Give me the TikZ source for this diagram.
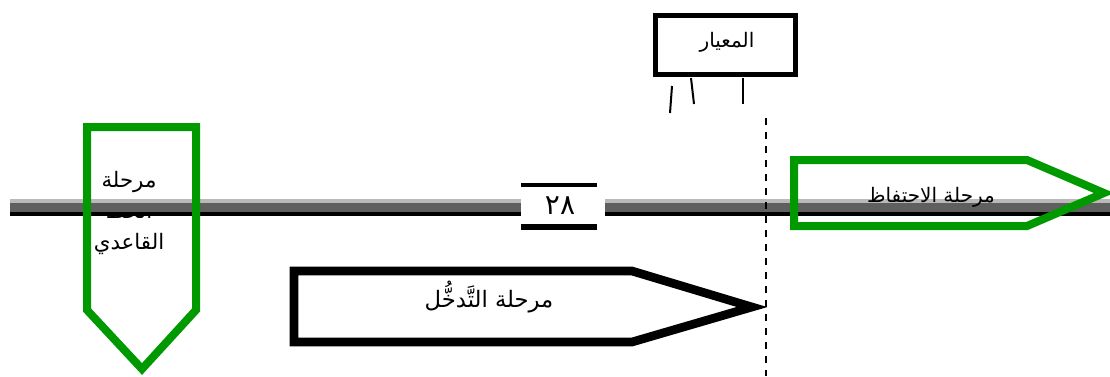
\documentclass[tikz,border=0pt]{standalone}
\usepackage{fontspec}
\newfontfamily\arabicfont[Script=Arabic]{DejaVu Sans}
\TeXXeTstate=1
\definecolor{phasegreen}{RGB}{0,153,0}
\definecolor{bandlight}{RGB}{185,185,185}
\definecolor{banddark}{RGB}{95,95,95}
\tikzset{
  label/.style={font=\arabicfont\fontsize{16}{23}\selectfont, inner sep=0pt, align=center},
  greenphase/.style={draw=phasegreen, line width=6pt, line join=miter},
  blackphase/.style={draw=black, line width=6.5pt, fill=white, line join=miter},
  tick/.style={draw=black, line width=1.5pt},
}
\begin{document}
\begin{tikzpicture}[x=0.75pt,y=-0.75pt]
\useasboundingbox (0,0) rectangle (1110,376);

% baseline phase label, partly hidden by the time line
\node[label] (base) at (129,213) {\beginR مرحلة\endR\\\beginR الخط\endR\\\beginR القاعدي\endR};

% time line
\fill[bandlight] (10,199) rectangle (1110,203);
\fill[banddark]  (10,203) rectangle (1110,212);
\fill[black]     (10,212) rectangle (1110,216);

% baseline phase outline
\draw[greenphase] (87,127) -- (196,127) -- (196,310) -- (142,369) -- (87,310) -- cycle;

% session number
\fill[white] (521,186) rectangle (605,225);
\draw[line width=3pt] (521,184.5) -- (597,184.5);
\draw[line width=4.5pt] (521,227) -- (597,227);
\node[font=\arabicfont\fontsize{21}{22}\selectfont, inner sep=0pt] (num) at (560,206) {٢٨};

% criterion box and its ticks
\draw[line width=3.75pt] (655,15) rectangle (795,74);
\node[font=\arabicfont\fontsize{15}{16}\selectfont, inner sep=0pt] (crit) at (727,42) {\beginR المعيار\endR};
\draw[tick] (672,86) -- (670,113);
\draw[tick] (691,78) -- (694,104);
\draw[tick] (743,78) -- (743,104);

% phase change line
\draw[line width=1.3pt, dash pattern=on 5.25pt off 5.25pt] (766,118) -- (766,376);

% intervention phase
\draw[blackphase] (294,271) -- (632,271) -- (752,307) -- (632,342) -- (294,342) -- cycle;
\node[label, font=\arabicfont\fontsize{17}{20}\selectfont] (inter) at (489,297) {\beginR مرحلة التَّدخُّل\endR};

% retention phase
\draw[greenphase] (794,160) -- (1027,160) -- (1104,193) -- (1027,226) -- (794,226) -- cycle;
\node[label, font=\arabicfont\fontsize{15}{18}\selectfont] (keep) at (931,197) {\beginR مرحلة الاحتفاظ\endR};
\end{tikzpicture}
\end{document}
